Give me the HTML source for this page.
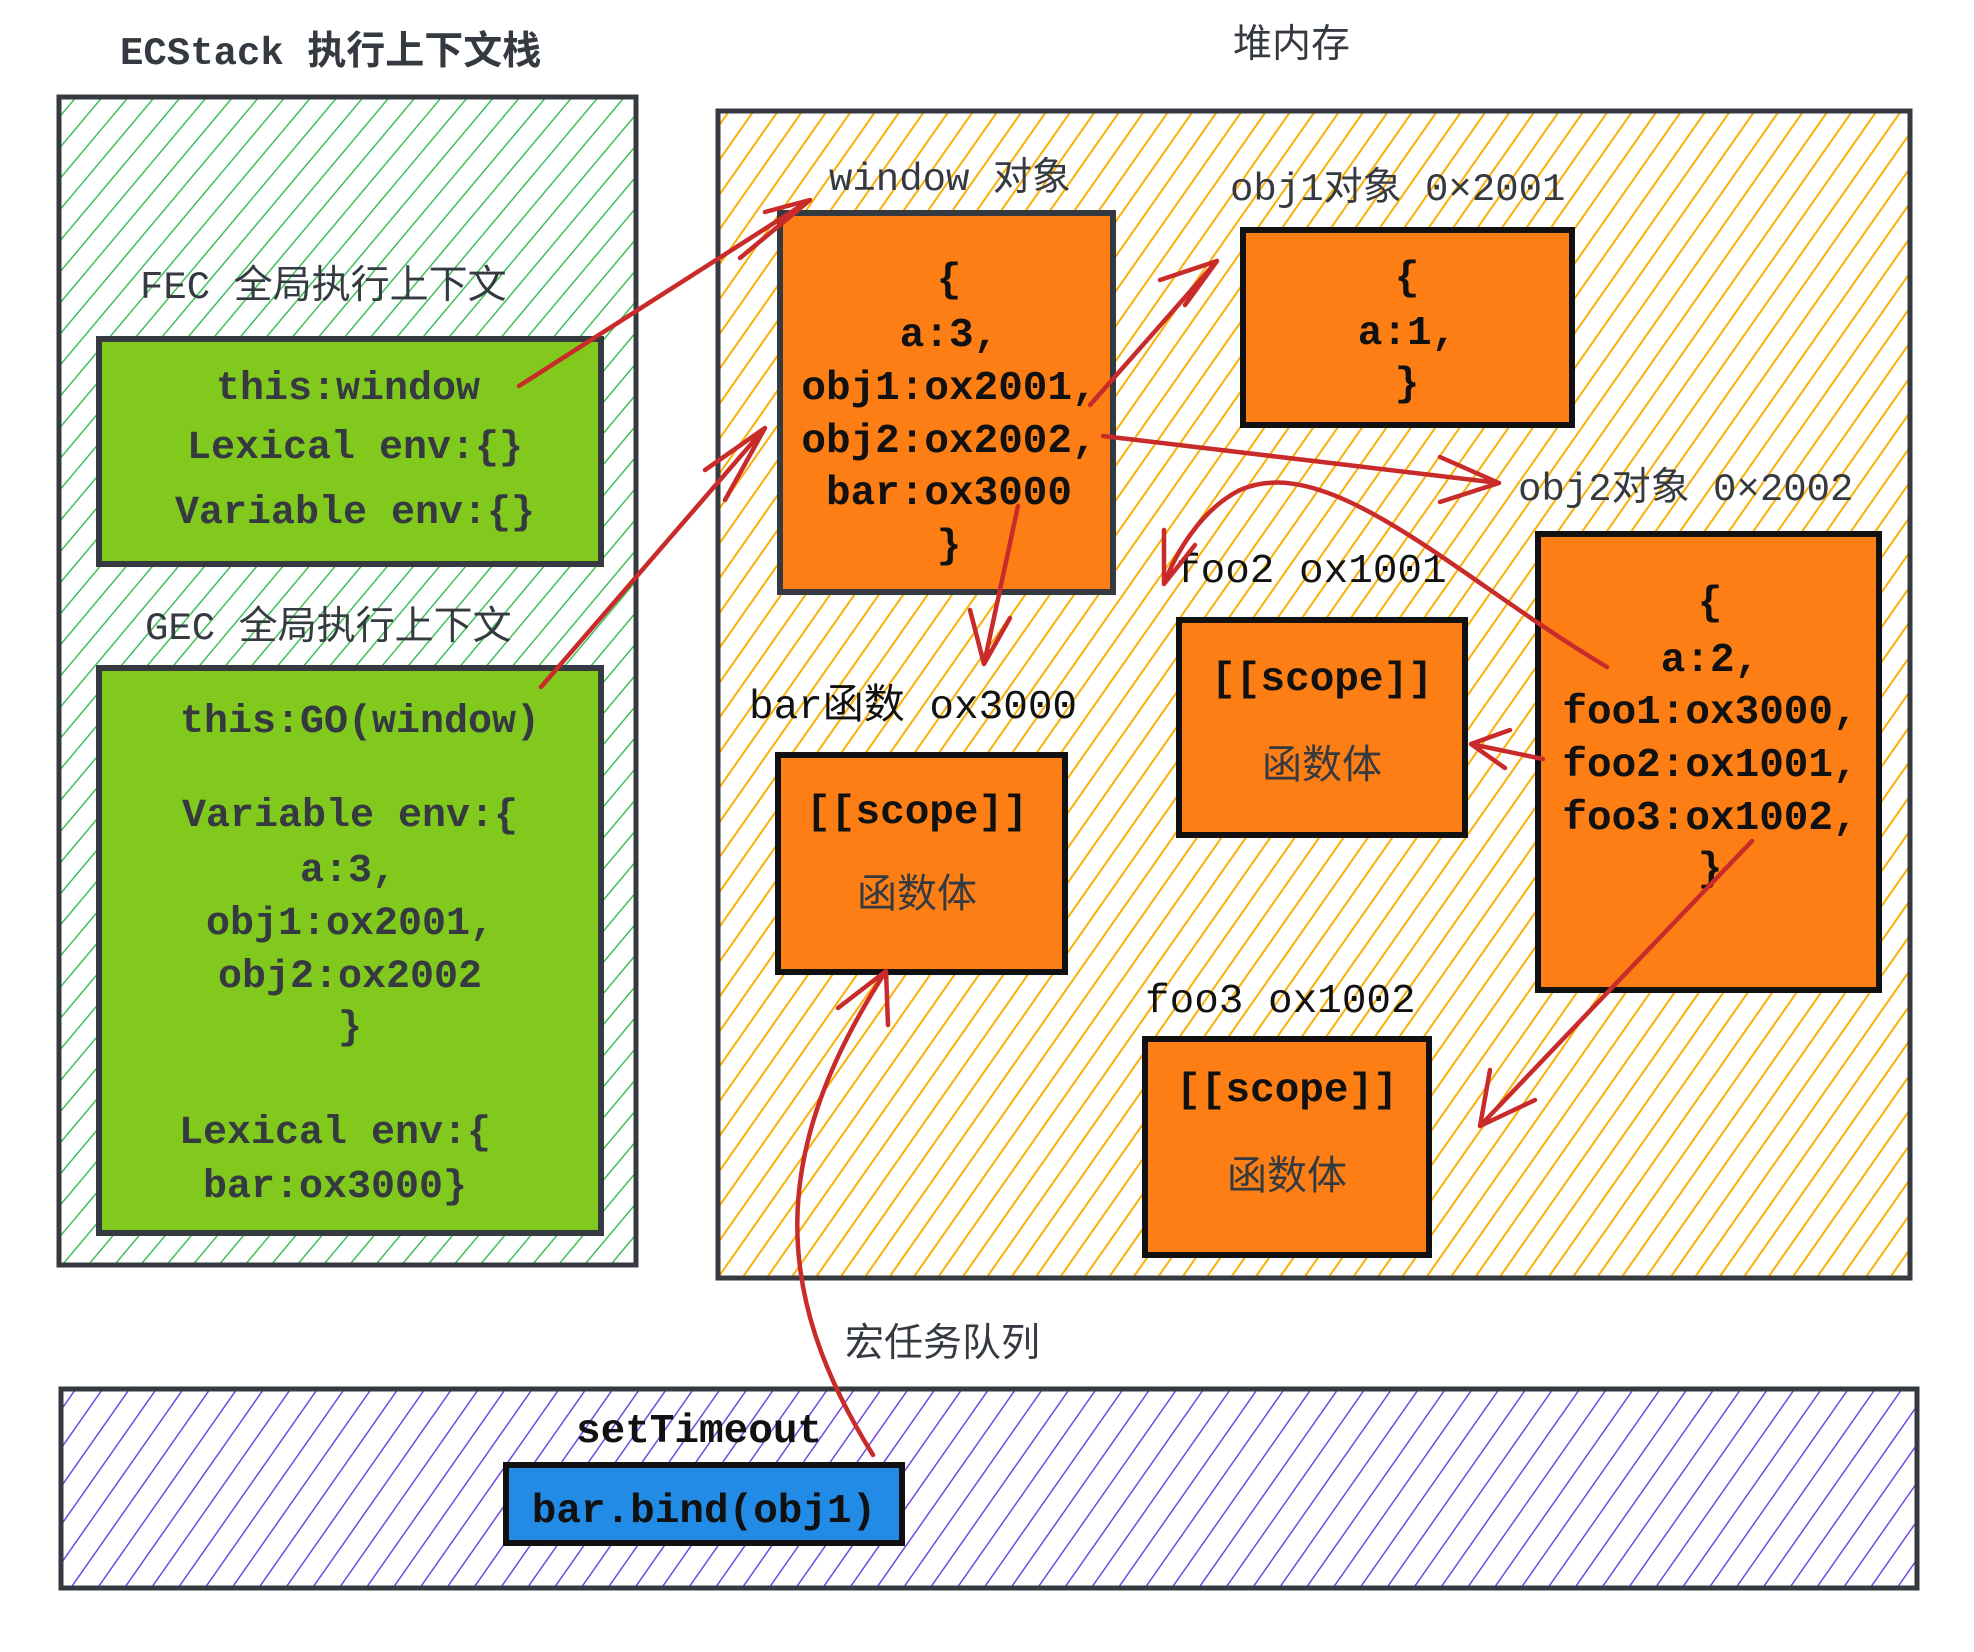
<!DOCTYPE html>
<html><head><meta charset="utf-8"><style>
html,body{margin:0;padding:0;background:#fff;}
svg{display:block}
text{font-family:"Liberation Mono","Noto Sans CJK SC",monospace;}
.cj{font-family:"Liberation Mono","Noto Sans CJK SC",monospace;}
.g{fill:#343a40;font-size:40px;text-anchor:middle;font-weight:bold}
.k{fill:#111;font-size:41px;text-anchor:middle;font-weight:bold}
.lbl{fill:#343a40;font-size:39px}
.h{fill:#343a40;font-size:40px;text-anchor:middle}
.a{fill:none;stroke:#c92a2a;stroke-width:4.5;stroke-linecap:round;stroke-linejoin:round}
</style></head><body>
<svg width="1974" height="1652" viewBox="0 0 1974 1652" xmlns="http://www.w3.org/2000/svg">
<defs>
<pattern id="pg" width="20" height="20" patternUnits="userSpaceOnUse" patternTransform="rotate(40)">
<line x1="0" y1="0" x2="0" y2="20" stroke="#40c057" stroke-width="3"/></pattern>
<pattern id="po" width="20" height="20" patternUnits="userSpaceOnUse" patternTransform="rotate(35)">
<line x1="0" y1="0" x2="0" y2="20" stroke="#fab005" stroke-width="4"/></pattern>
<pattern id="pp" width="22" height="22" patternUnits="userSpaceOnUse" patternTransform="rotate(35)">
<line x1="0" y1="0" x2="0" y2="22" stroke="#7048e8" stroke-width="3"/></pattern>
</defs>

<text x="120" y="64" class="lbl cj" style="font-weight:bold">ECStack 执行上下文栈</text>
<text x="1233" y="57" class="lbl cj">堆内存</text>

<rect x="59" y="97" width="577" height="1168" fill="url(#pg)" stroke="#343a40" stroke-width="5"/>
<text x="140" y="298" class="lbl cj">FEC 全局执行上下文</text>
<rect x="99" y="339" width="502" height="225" fill="#82c91e" stroke="#343a40" stroke-width="6"/>
<text x="348" y="399" class="g">this:window</text>
<text x="355" y="458" class="g">Lexical env:{}</text>
<text x="355" y="523" class="g">Variable env:{}</text>
<text x="145" y="639" class="lbl cj">GEC 全局执行上下文</text>
<rect x="99" y="668" width="502" height="565" fill="#82c91e" stroke="#343a40" stroke-width="6"/>
<text x="360" y="732" class="g">this:GO(window)</text>
<text x="350" y="826" class="g">Variable env:{</text>
<text x="348" y="881" class="g">a:3,</text>
<text x="350" y="934" class="g">obj1:ox2001,</text>
<text x="350" y="987" class="g">obj2:ox2002</text>
<text x="350" y="1038" class="g">}</text>
<text x="335" y="1143" class="g">Lexical env:{</text>
<text x="335" y="1197" class="g">bar:ox3000}</text>

<rect x="718" y="111" width="1192" height="1167" fill="url(#po)" stroke="#343a40" stroke-width="5"/>
<text x="829" y="190" class="lbl cj">window 对象</text>
<rect x="780" y="213" width="333" height="379" fill="#fd7e14" stroke="#343a40" stroke-width="6"/>
<text x="949" y="291" class="k">{</text>
<text x="949" y="346" class="k">a:3,</text>
<text x="949" y="399" class="k">obj1:ox2001,</text>
<text x="949" y="452" class="k">obj2:ox2002,</text>
<text x="949" y="504" class="k">bar:ox3000</text>
<text x="949" y="557" class="k">}</text>

<text x="1230" y="200" class="lbl cj">obj1对象 0×2001</text>
<rect x="1243" y="230" width="329" height="195" fill="#fd7e14" stroke="#111" stroke-width="6"/>
<text x="1407" y="289" class="k">{</text>
<text x="1407" y="344" class="k">a:1,</text>
<text x="1407" y="395" class="k">}</text>

<text x="1518" y="500" class="lbl cj">obj2对象 0×2002</text>
<rect x="1538" y="534" width="341" height="456" fill="#fd7e14" stroke="#111" stroke-width="6"/>
<text x="1710" y="614" class="k">{</text>
<text x="1710" y="671" class="k">a:2,</text>
<text x="1710" y="723" class="k">foo1:ox3000,</text>
<text x="1710" y="776" class="k">foo2:ox1001,</text>
<text x="1710" y="829" class="k">foo3:ox1002,</text>
<text x="1710" y="880" class="k">}</text>

<text x="1176" y="582" class="k" style="text-anchor:start;font-weight:normal">foo2 ox1001</text>
<rect x="1179" y="620" width="286" height="215" fill="#fd7e14" stroke="#111" stroke-width="6"/>
<text x="1322" y="690" class="k">[[scope]]</text>
<text x="1322" y="778" class="h">函数体</text>

<text x="749" y="718" class="k" style="text-anchor:start;font-weight:normal">bar函数 ox3000</text>
<rect x="778" y="755" width="287" height="217" fill="#fd7e14" stroke="#111" stroke-width="6"/>
<text x="917" y="823" class="k">[[scope]]</text>
<text x="917" y="907" class="h">函数体</text>

<text x="1145" y="1012" class="k" style="text-anchor:start;font-weight:normal">foo3 ox1002</text>
<rect x="1145" y="1039" width="284" height="216" fill="#fd7e14" stroke="#111" stroke-width="6"/>
<text x="1287" y="1101" class="k">[[scope]]</text>
<text x="1287" y="1189" class="h">函数体</text>

<text x="845" y="1356" class="lbl cj">宏任务队列</text>
<rect x="61" y="1389" width="1856" height="199" fill="url(#pp)" stroke="#343a40" stroke-width="5"/>
<text x="576" y="1442" class="k" style="text-anchor:start">setTimeout</text>
<rect x="506" y="1465" width="396" height="78" fill="#228be6" stroke="#111" stroke-width="6"/>
<text x="704" y="1522" class="k">bar.bind(obj1)</text>

<path class="a" d="M519 386 L810 200 M740 258 L810 200 L765 212"/>
<path class="a" d="M541 687 L765 428 M725 500 L765 428 L705 470"/>
<path class="a" d="M1090 405 L1217 261 M1185 305 L1217 261 L1160 280"/>
<path class="a" d="M1103 436 L1499 483 M1440 457 L1499 483 L1440 502"/>
<path class="a" d="M1018 506 L984 664 M970 610 L984 664 L1010 618"/>
<path class="a" d="M1607 667 C1460 580 1330 450 1240 490 C1200 510 1175 555 1164 584 M1164 530 L1164 584 L1195 545"/>
<path class="a" d="M1543 759 L1471 744 M1510 730 L1471 744 L1505 768"/>
<path class="a" d="M1752 841 L1480 1126 M1490 1070 L1480 1126 L1535 1100"/>
<path class="a" d="M873 1455 C770 1290 770 1150 886 971 M838 1008 L886 971 L888 1025"/>
</svg>
</body></html>
